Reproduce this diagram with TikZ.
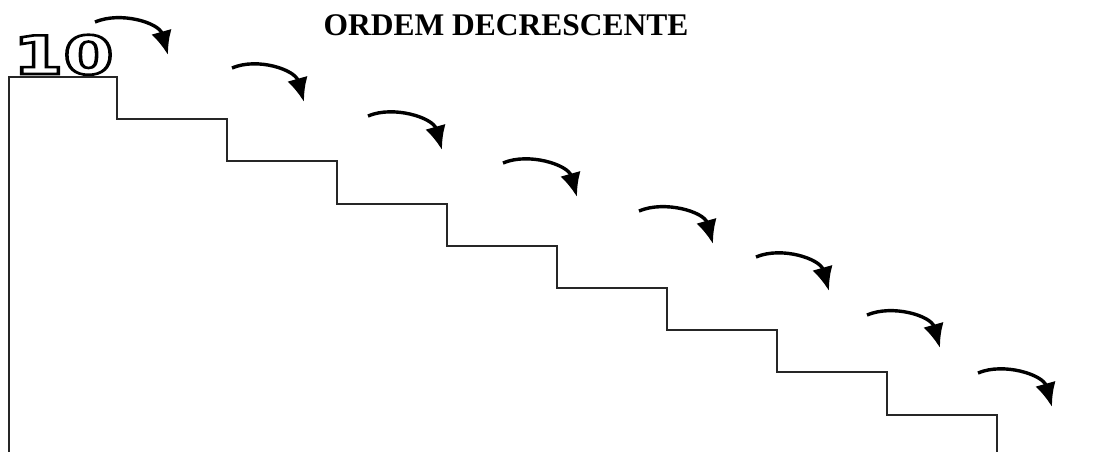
\documentclass[tikz,border=0pt]{standalone}
\usepackage{fontspec}
\setmainfont{Liberation Serif}
\newfontfamily\digitfont{DejaVu Sans}
\usetikzlibrary{arrows.meta}
\newcommand{\outlinetext}[1]{\special{pdf:code 1 Tr 2.6 w}#1\special{pdf:code 0 Tr}}
\tikzset{
  stair/.style={line width=2.2pt, draw=black!85, line join=miter},
  jump/.style={line width=3.4pt, draw=black, -{Latex[length=24pt,width=21pt]}},
}
\begin{document}
\begin{tikzpicture}[x=1pt,y=-1pt]
\useasboundingbox (0,0) rectangle (1097,452);
% title
\node[font=\fontsize{31.5}{36}\selectfont\bfseries] (title) at (506,25) {ORDEM DECRESCENTE};
% number on top step
\node[anchor=south west, inner sep=0pt, xscale=1.36, font=\digitfont\fontsize{53}{53}\selectfont\bfseries] (num) at (13,75) {\outlinetext{10}};
% staircase
\draw[stair] (9,452) -- (9,77) -- (117,77) -- (117,119) -- (227,119) -- (227,161)
  -- (337,161) -- (337,204) -- (447,204) -- (447,246) -- (557,246) -- (557,288)
  -- (667,288) -- (667,330) -- (777,330) -- (777,372) -- (887,372) -- (887,415)
  -- (997,415) -- (997,452);
% jump arrows
\foreach \i/\sx/\sy/\tx/\ty in {1/95/22/168/55, 2/232/68/304/102, 3/368/116/442/150,
  4/503/163/577/197, 5/639/211/713/244, 6/756/257/829/291, 7/867/315/940/348,
  8/978/373/1052/407}{
  \coordinate (s\i) at (\sx,\sy);
  \coordinate (t\i) at (\tx,\ty);
  \draw[jump] (s\i) .. controls +(26,-11) and +(-9,-32) .. (t\i);
}
\end{tikzpicture}
\end{document}
